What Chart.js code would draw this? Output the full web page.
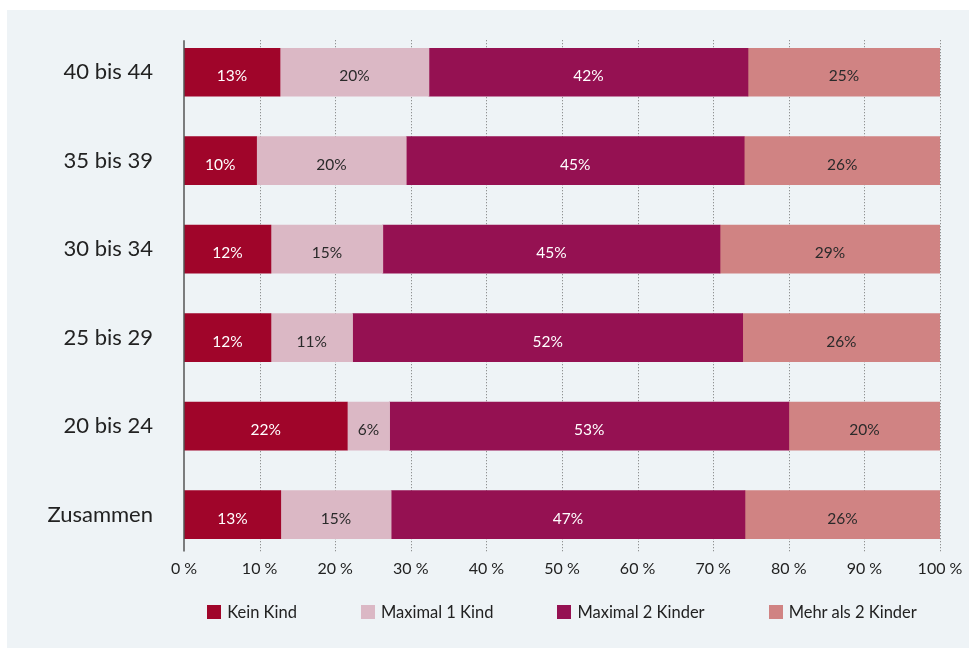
<!DOCTYPE html>
<html>
<head>
<meta charset="utf-8">
<script src="https://cdn.jsdelivr.net/npm/chart.js@4.4.0/dist/chart.umd.min.js"></script>
<style>
  body { margin: 0; background: #fff; width: 969px; height: 648px; overflow: hidden; font-family: Lato, sans-serif; }
  #panel { position: absolute; left: 7px; top: 10px; right: 0; bottom: 0; background: #eef3f6; }
  #wrap { position: absolute; left: 0; top: 0; width: 969px; height: 648px; }
  #legend { position: absolute; left: 184px; width: 756px; top: 602px; display: flex; justify-content: center; gap: 64px; font-size: 16.5px; color: #222; }
  #legend .item { display: flex; align-items: center; }
  #legend .box { width: 14px; height: 14px; margin-right: 6px; }
</style>
</head>
<body>
<div id="panel"></div>
<div id="wrap"><canvas id="chart" width="969" height="648"></canvas></div>
<div id="legend"></div>
<script>
const categories = ['40 bis 44', '35 bis 39', '30 bis 34', '25 bis 29', '20 bis 24', 'Zusammen'];
const seriesNames = ['Kein Kind', 'Maximal 1 Kind', 'Maximal 2 Kinder', 'Mehr als 2 Kinder'];
const keinKind  = [12.7,  9.6, 11.5, 11.5, 21.6, 12.8];
const maximal1  = [19.7, 19.8, 14.8, 10.8,  5.6, 14.6];
const maximal2  = [42.2, 44.7, 44.6, 51.6, 52.8, 46.8];
const mehrAls2  = [25.4, 25.9, 29.1, 26.1, 20.0, 25.8];
const xTicks = [0, 10, 20, 30, 40, 50, 60, 70, 80, 90, 100];

const colors = ['#a0052a', '#dbb8c5', '#951152', '#d08383'];
const labelColors = ['#fff', '#2a2a2a', '#fff', '#2a2a2a'];
const allSeries = [keinKind, maximal1, maximal2, mehrAls2];

// dotted grid + axis line, limited to the bar band
const gridPlugin = {
  id: 'gridLines',
  beforeDatasetsDraw(chart) {
    const {ctx, scales: {x, y}} = chart;
    const top = y.getPixelForValue(0) - 32;
    const bottom = y.getPixelForValue(categories.length - 1) + 37;
    ctx.save();
    ctx.strokeStyle = '#777';
    ctx.lineWidth = 1;
    ctx.setLineDash([1, 2]);
    xTicks.forEach(v => {
      if (v === 0) return;
      const px = Math.round(x.getPixelForValue(v)) + 0.5;
      ctx.beginPath();
      ctx.moveTo(px, top);
      ctx.lineTo(px, bottom);
      ctx.stroke();
    });
    ctx.restore();
  },
  afterDatasetsDraw(chart) {
    const {ctx, scales: {x, y}} = chart;
    const top = y.getPixelForValue(0) - 32;
    const bottom = y.getPixelForValue(categories.length - 1) + 37;
    const px = x.getPixelForValue(0);
    ctx.save();
    ctx.strokeStyle = '#555';
    ctx.lineWidth = 1.5;
    ctx.beginPath();
    ctx.moveTo(px, top);
    ctx.lineTo(px, bottom);
    ctx.stroke();

    // value labels
    ctx.font = '15.5px Lato';
    ctx.textAlign = 'center';
    ctx.textBaseline = 'middle';
    chart.data.datasets.forEach((ds, i) => {
      const meta = chart.getDatasetMeta(i);
      meta.data.forEach((bar, j) => {
        ctx.fillStyle = ds.labelColor;
        ctx.fillText(Math.round(ds.data[j]) + '%', (bar.x + bar.base) / 2, bar.y + 4);
      });
    });
    ctx.restore();
  }
};

new Chart(document.getElementById('chart'), {
  type: 'bar',
  data: {
    labels: categories,
    datasets: allSeries.map((d, i) => ({
      label: seriesNames[i],
      data: d,
      backgroundColor: colors[i],
      labelColor: labelColors[i],
      borderWidth: 0,
      barThickness: 48
    }))
  },
  options: {
    indexAxis: 'y',
    responsive: false,
    animation: false,
    layout: { padding: { left: 0, right: 29, top: 28, bottom: 70 } },
    plugins: { legend: { display: false }, tooltip: { enabled: false } },
    scales: {
      x: {
        stacked: true, min: 0, max: 100,
        grid: { display: false, drawTicks: false },
        border: { display: false },
        ticks: { stepSize: 10, padding: 0, color: '#222', font: { family: 'Lato', size: 16 }, callback: v => v + ' %' }
      },
      y: {
        stacked: true,
        grid: { display: false, drawTicks: false },
        border: { display: false },
        ticks: { padding: 31, color: '#222', font: { family: 'Lato', size: 22 } },
        afterFit(scale) { scale.width = 184; scale.paddingTop = 0; scale.paddingBottom = 0; }
      }
    }
  },
  plugins: [gridPlugin]
});

const legend = document.getElementById('legend');
seriesNames.forEach((name, i) => {
  const item = document.createElement('div');
  item.className = 'item';
  item.innerHTML = '<span class="box" style="background:' + colors[i] + '"></span><span>' + name + '</span>';
  legend.appendChild(item);
});
</script>
</body>
</html>
